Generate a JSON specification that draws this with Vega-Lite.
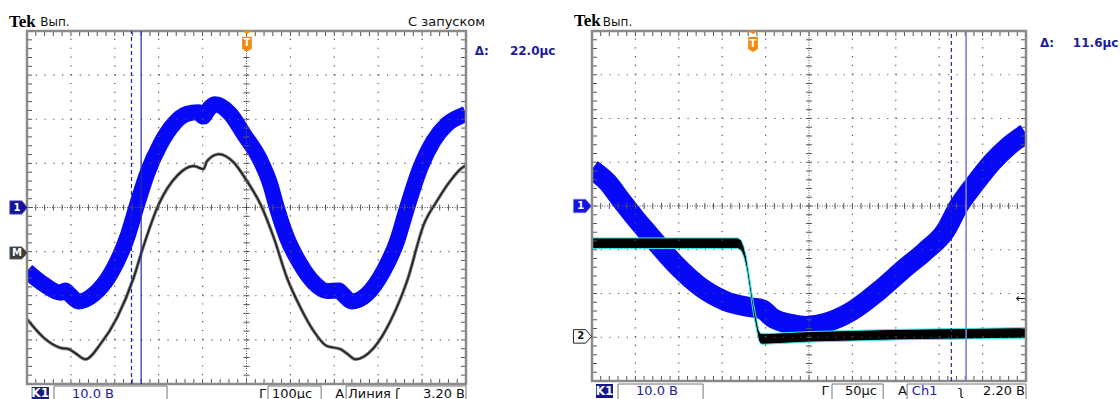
{
"$schema": "https://vega.github.io/schema/vega-lite/v6.json",
"background": "white",
"padding": 0,
"autosize": {"type": "pad"},
"bounds": "flush",
"spacing": 126,
"config": {"view": {"stroke": null}, "axis": {"disable": true}, "legend": {"disable": true}},
"datasets": {
"tx": [{"t":0},{"t":0.2},{"t":0.4},{"t":0.6},{"t":0.8},{"t":1},{"t":1.2},{"t":1.4},{"t":1.6},{"t":1.8},{"t":2},{"t":2.2},{"t":2.4},{"t":2.6},{"t":2.8},{"t":3},{"t":3.2},{"t":3.4},{"t":3.6},{"t":3.8},{"t":4},{"t":4.2},{"t":4.4},{"t":4.6},{"t":4.8},{"t":5},{"t":5.2},{"t":5.4},{"t":5.6},{"t":5.8},{"t":6},{"t":6.2},{"t":6.4},{"t":6.6},{"t":6.8},{"t":7},{"t":7.2},{"t":7.4},{"t":7.6},{"t":7.8},{"t":8},{"t":8.2},{"t":8.4},{"t":8.6},{"t":8.8},{"t":9},{"t":9.2},{"t":9.4},{"t":9.6},{"t":9.8},{"t":10}],
"ty": [{"t":0},{"t":0.2},{"t":0.4},{"t":0.6},{"t":0.8},{"t":1},{"t":1.2},{"t":1.4},{"t":1.6},{"t":1.8},{"t":2},{"t":2.2},{"t":2.4},{"t":2.6},{"t":2.8},{"t":3},{"t":3.2},{"t":3.4},{"t":3.6},{"t":3.8},{"t":4},{"t":4.2},{"t":4.4},{"t":4.6},{"t":4.8},{"t":5},{"t":5.2},{"t":5.4},{"t":5.6},{"t":5.8},{"t":6},{"t":6.2},{"t":6.4},{"t":6.6},{"t":6.8},{"t":7},{"t":7.2},{"t":7.4},{"t":7.6},{"t":7.8},{"t":8}],
"gx": [{"p":1},{"p":2},{"p":3},{"p":4},{"p":6},{"p":7},{"p":8},{"p":9}],
"gy": [{"p":1},{"p":2},{"p":3},{"p":5},{"p":6},{"p":7}],
"blueL": [{"x":0,"y":2.56},{"x":0.38,"y":2.26},{"x":0.76,"y":2.07},{"x":0.87,"y":2.12},{"x":0.95,"y":2.05},{"x":1.18,"y":1.87},{"x":1.52,"y":2.03},{"x":1.9,"y":2.49},{"x":2.28,"y":3.32},{"x":2.51,"y":4.07},{"x":2.73,"y":4.75},{"x":3.04,"y":5.44},{"x":3.34,"y":5.89},{"x":3.64,"y":6.12},{"x":3.9,"y":6.16},{"x":4.02,"y":6.06},{"x":4.1,"y":6.18},{"x":4.29,"y":6.34},{"x":4.63,"y":6.12},{"x":4.94,"y":5.66},{"x":5.32,"y":5.06},{"x":5.54,"y":4.53},{"x":5.69,"y":4.0},{"x":5.92,"y":3.32},{"x":6.23,"y":2.71},{"x":6.53,"y":2.3},{"x":6.83,"y":2.11},{"x":7.1,"y":2.12},{"x":7.2,"y":2.03},{"x":7.4,"y":1.87},{"x":7.74,"y":2.03},{"x":8.12,"y":2.56},{"x":8.43,"y":3.24},{"x":8.66,"y":4.0},{"x":8.96,"y":4.9},{"x":9.26,"y":5.51},{"x":9.57,"y":5.89},{"x":9.95,"y":6.1},{"x":10,"y":6.12}],
"blackL": [{"x":0,"y":1.47},{"x":0.38,"y":1.05},{"x":0.76,"y":0.82},{"x":0.95,"y":0.79},{"x":1.1,"y":0.7},{"x":1.33,"y":0.56},{"x":1.67,"y":0.9},{"x":2.05,"y":1.5},{"x":2.43,"y":2.41},{"x":2.62,"y":3.02},{"x":3.0,"y":4.07},{"x":3.42,"y":4.72},{"x":3.8,"y":4.94},{"x":4.02,"y":4.87},{"x":4.1,"y":5.05},{"x":4.37,"y":5.21},{"x":4.71,"y":5.02},{"x":5.01,"y":4.6},{"x":5.32,"y":4.07},{"x":5.62,"y":3.32},{"x":5.92,"y":2.41},{"x":6.23,"y":1.73},{"x":6.53,"y":1.2},{"x":6.83,"y":0.86},{"x":7.14,"y":0.79},{"x":7.3,"y":0.68},{"x":7.48,"y":0.56},{"x":7.9,"y":0.82},{"x":8.28,"y":1.43},{"x":8.66,"y":2.34},{"x":9.04,"y":3.62},{"x":9.34,"y":4.15},{"x":9.64,"y":4.6},{"x":9.91,"y":4.9},{"x":10,"y":4.95}],
"blueR": [{"x":0,"y":4.84},{"x":0.35,"y":4.55},{"x":0.69,"y":4.11},{"x":1.0,"y":3.72},{"x":1.32,"y":3.35},{"x":1.92,"y":2.67},{"x":2.53,"y":2.13},{"x":3.07,"y":1.83},{"x":3.69,"y":1.68},{"x":3.92,"y":1.64},{"x":4.15,"y":1.45},{"x":4.61,"y":1.3},{"x":4.92,"y":1.26},{"x":5.38,"y":1.33},{"x":5.99,"y":1.6},{"x":6.61,"y":2.06},{"x":7.22,"y":2.59},{"x":7.68,"y":2.97},{"x":8.14,"y":3.43},{"x":8.45,"y":4.0},{"x":8.83,"y":4.52},{"x":9.22,"y":5.0},{"x":9.6,"y":5.37},{"x":10,"y":5.66}],
"blackR": [{"x":0,"hi":3.27,"lo":3.03},{"x":3.36,"hi":3.27,"lo":3.03},{"x":3.44,"hi":3.22,"lo":2.98},{"x":3.5,"hi":3.07,"lo":2.83},{"x":3.56,"hi":2.82,"lo":2.58},{"x":3.72,"hi":1.77,"lo":1.53},{"x":3.84,"hi":1.17,"lo":0.93},{"x":3.88,"hi":1.09,"lo":0.85},{"x":3.95,"hi":1.08,"lo":0.84},{"x":5,"hi":1.13,"lo":0.89},{"x":7,"hi":1.18,"lo":0.94},{"x":10,"hi":1.22,"lo":0.98}]
},
"hconcat": [
{
"width": 439, "height": 353,
"layer": [
{"data": {"values": [{"x": -0.615, "x2": 10, "y": -0.363, "y2": 8.685}]}, "mark": {"type": "rect", "fill": "white", "fillOpacity": 0, "strokeWidth": 0}, "encoding": {"x": {"field": "x", "type": "quantitative", "scale": {"domain": [0, 10], "nice": false, "zero": false}}, "y": {"field": "y", "type": "quantitative", "scale": {"domain": [0, 8], "nice": false, "zero": false}}, "x2": {"field": "x2"}, "y2": {"field": "y2"}}},
{"data": {"name": "blueL"}, "mark": {"type": "line", "color": "#0808f8", "strokeWidth": 16, "interpolate": "monotone", "clip": true, "strokeJoin": "round"}, "encoding": {"x": {"field": "x", "type": "quantitative"}, "y": {"field": "y", "type": "quantitative"}}},
{"data": {"name": "blackL"}, "mark": {"type": "line", "color": "#8a8a8a", "strokeWidth": 3.4, "interpolate": "monotone", "clip": true}, "encoding": {"x": {"field": "x", "type": "quantitative"}, "y": {"field": "y", "type": "quantitative"}}},
{"data": {"name": "blackL"}, "mark": {"type": "line", "color": "#262626", "strokeWidth": 1.8, "interpolate": "monotone", "clip": true}, "encoding": {"x": {"field": "x", "type": "quantitative"}, "y": {"field": "y", "type": "quantitative"}}},
{"data": {"name": "gx"}, "mark": {"type": "rule", "stroke": "#555555", "strokeWidth": 1.2, "strokeDash": [1.2, 7.62]}, "encoding": {"x": {"field": "p", "type": "quantitative"}, "y": {"datum": 0}, "y2": {"datum": 8}}},
{"data": {"name": "gy"}, "mark": {"type": "rule", "stroke": "#555555", "strokeWidth": 1.2, "strokeDash": [1.2, 7.58]}, "encoding": {"y": {"field": "p", "type": "quantitative"}, "x": {"datum": 0}, "x2": {"datum": 10}}},
{"data": {"values": [{"p": 5}]}, "mark": {"type": "rule", "stroke": "#555555", "strokeWidth": 1, "strokeDash": [1, 1.5]}, "encoding": {"x": {"field": "p", "type": "quantitative"}, "y": {"datum": 0}, "y2": {"datum": 8}}},
{"data": {"values": [{"p": 4}]}, "mark": {"type": "rule", "stroke": "#555555", "strokeWidth": 1, "strokeDash": [1, 1.5]}, "encoding": {"y": {"field": "p", "type": "quantitative"}, "x": {"datum": 0}, "x2": {"datum": 10}}},
{"data": {"name": "tx"}, "mark": {"type": "tick", "orient": "vertical", "size": 6, "thickness": 1, "color": "#555555", "opacity": 1}, "encoding": {"x": {"field": "t", "type": "quantitative"}, "y": {"datum": 4}}},
{"data": {"name": "ty"}, "mark": {"type": "tick", "orient": "horizontal", "size": 6, "thickness": 1, "color": "#555555", "opacity": 1}, "encoding": {"y": {"field": "t", "type": "quantitative"}, "x": {"datum": 5}}},
{"data": {"name": "tx"}, "mark": {"type": "tick", "orient": "vertical", "size": 5, "thickness": 1, "color": "#555555", "opacity": 1, "yOffset": -2.5}, "encoding": {"x": {"field": "t", "type": "quantitative"}, "y": {"datum": 0}}},
{"data": {"name": "tx"}, "mark": {"type": "tick", "orient": "vertical", "size": 5, "thickness": 1, "color": "#555555", "opacity": 1, "yOffset": 2.5}, "encoding": {"x": {"field": "t", "type": "quantitative"}, "y": {"datum": 8}}},
{"data": {"name": "ty"}, "mark": {"type": "tick", "orient": "horizontal", "size": 5, "thickness": 1, "color": "#555555", "opacity": 1, "xOffset": 2.5}, "encoding": {"y": {"field": "t", "type": "quantitative"}, "x": {"datum": 0}}},
{"data": {"name": "ty"}, "mark": {"type": "tick", "orient": "horizontal", "size": 5, "thickness": 1, "color": "#555555", "opacity": 1, "xOffset": -2.5}, "encoding": {"y": {"field": "t", "type": "quantitative"}, "x": {"datum": 10}}},
{"data": {"values": [{"x": 0, "x2": 10, "y": 0, "y2": 8}]}, "mark": {"type": "rect", "fill": "white", "fillOpacity": 0, "stroke": "#8a8a8a", "strokeWidth": 2.5}, "encoding": {"x": {"field": "x", "type": "quantitative"}, "x2": {"field": "x2"}, "y": {"field": "y", "type": "quantitative"}, "y2": {"field": "y2"}}},
{"data": {"values": [{"x": 2.38}]}, "mark": {"type": "rule", "stroke": "#2424a8", "strokeWidth": 1.2, "strokeDash": [4, 3]}, "encoding": {"x": {"field": "x", "type": "quantitative"}, "y": {"datum": 0}, "y2": {"datum": 8}}},
{"data": {"values": [{"x": 2.6}]}, "mark": {"type": "rule", "stroke": "#2a2aa0", "strokeWidth": 1.2}, "encoding": {"x": {"field": "x", "type": "quantitative"}, "y": {"datum": 0}, "y2": {"datum": 8}}},
{"data": {"values": [{"x": 5.01, "y": 8}]}, "mark": {"type": "point", "shape": "M-1,0L1,0L0,0.8Z", "size": 64, "filled": true, "fill": "#f28a10", "strokeWidth": 0, "opacity": 1}, "encoding": {"x": {"field": "x", "type": "quantitative"}, "y": {"field": "y", "type": "quantitative"}}},
{"data": {"values": [{"x": 5.01, "y": 7.7}]}, "mark": {"type": "point", "shape": "M-0.65,-1L0.65,-1L0.65,0.6L0,1L-0.65,0.6Z", "size": 225, "filled": true, "fill": "#f28a10", "strokeWidth": 0, "opacity": 1}, "encoding": {"x": {"field": "x", "type": "quantitative"}, "y": {"field": "y", "type": "quantitative"}}},
{"data": {"values": [{"x": 5.01, "y": 7.72, "label": "T"}]}, "mark": {"type": "text", "font": "DejaVu Sans", "fontWeight": "bold", "fontSize": 10, "color": "white", "align": "center", "baseline": "middle"}, "encoding": {"x": {"field": "x", "type": "quantitative"}, "y": {"field": "y", "type": "quantitative"}, "text": {"field": "label"}}},
{"data": {"values": [{"x": -0.19, "y": 4.0}]}, "mark": {"type": "point", "shape": "M-1,-0.75L0.35,-0.75L1,0L0.35,0.75L-1,0.75Z", "size": 324, "filled": true, "fill": "#14149a", "stroke": "#7a7ad0", "strokeWidth": 0.8, "opacity": 1}, "encoding": {"x": {"field": "x", "type": "quantitative"}, "y": {"field": "y", "type": "quantitative"}}},
{"data": {"values": [{"x": -0.19, "y": 2.97}]}, "mark": {"type": "point", "shape": "M-1,-0.7L0.35,-0.7L1,0L0.35,0.7L-1,0.7Z", "size": 324, "filled": true, "fill": "#3a3a3a", "stroke": "#9a9a9a", "strokeWidth": 0.8, "opacity": 1}, "encoding": {"x": {"field": "x", "type": "quantitative"}, "y": {"field": "y", "type": "quantitative"}}},
{"data": {"values": [{"x": -0.23, "y": 4.0, "label": "1"}, {"x": -0.23, "y": 2.97, "label": "M"}]}, "mark": {"type": "text", "font": "DejaVu Sans", "fontWeight": "bold", "fontSize": 10, "color": "white", "align": "center", "baseline": "middle"}, "encoding": {"x": {"field": "x", "type": "quantitative"}, "y": {"field": "y", "type": "quantitative"}, "text": {"field": "label"}}},
{"data": {"values": [{"x": 0.615, "x2": 3.19, "y": -0.045, "y2": -0.42}, {"x": 5.49, "x2": 6.7, "y": -0.045, "y2": -0.42}, {"x": 7.27, "x2": 10.0, "y": -0.045, "y2": -0.42}]}, "mark": {"type": "rect", "fill": "white", "stroke": "#777777", "strokeWidth": 1}, "encoding": {"x": {"field": "x", "type": "quantitative"}, "x2": {"field": "x2"}, "y": {"field": "y", "type": "quantitative"}, "y2": {"field": "y2"}}},
{"data": {"values": [{"x": 0.107, "x2": 0.5, "y": -0.068, "y2": -0.363}]}, "mark": {"type": "rect", "fill": "#17178c"}, "encoding": {"x": {"field": "x", "type": "quantitative"}, "x2": {"field": "x2"}, "y": {"field": "y", "type": "quantitative"}, "y2": {"field": "y2"}}},
{"data": {"values": [{"x": 0.3, "y": -0.3, "label": "K1"}]}, "mark": {"type": "text", "font": "DejaVu Sans", "fontWeight": "bold", "fontSize": 12, "color": "white", "align": "center", "baseline": "alphabetic"}, "encoding": {"x": {"field": "x", "type": "quantitative"}, "y": {"field": "y", "type": "quantitative"}, "text": {"field": "label"}}},
{"data": {"values": [{"x": 1.025, "y": -0.306, "label": "10.0 В"}]}, "mark": {"type": "text", "font": "DejaVu Sans", "fontSize": 13, "color": "#1c1c9c", "align": "left", "baseline": "alphabetic"}, "encoding": {"x": {"field": "x", "type": "quantitative"}, "y": {"field": "y", "type": "quantitative"}, "text": {"field": "label"}}},
{"data": {"values": [{"x": 5.285, "y": -0.306, "label": "Г"}, {"x": 5.58, "y": -0.306, "label": "100µс"}, {"x": 7.02, "y": -0.306, "label": "A"}, {"x": 7.31, "y": -0.306, "label": "Линия"}, {"x": 8.38, "y": -0.306, "label": "ʃ"}, {"x": 9.02, "y": -0.306, "label": "3.20 В"}]}, "mark": {"type": "text", "font": "DejaVu Sans", "fontSize": 13, "color": "#111111", "align": "left", "baseline": "alphabetic"}, "encoding": {"x": {"field": "x", "type": "quantitative"}, "y": {"field": "y", "type": "quantitative"}, "text": {"field": "label"}}},
{"data": {"values": [{"x": -0.41, "y": 8.1, "label": "Tek"}]}, "mark": {"type": "text", "font": "Liberation Serif", "fontWeight": "bold", "fontSize": 17, "color": "black", "align": "left", "baseline": "alphabetic"}, "encoding": {"x": {"field": "x", "type": "quantitative"}, "y": {"field": "y", "type": "quantitative"}, "text": {"field": "label"}}},
{"data": {"values": [{"x": 0.3, "y": 8.12, "label": "Вып."}]}, "mark": {"type": "text", "font": "DejaVu Sans", "fontSize": 12, "color": "#111111", "align": "left", "baseline": "alphabetic"}, "encoding": {"x": {"field": "x", "type": "quantitative"}, "y": {"field": "y", "type": "quantitative"}, "text": {"field": "label"}}},
{"data": {"values": [{"x": 8.68, "y": 8.12, "label": "С запуском"}]}, "mark": {"type": "text", "font": "DejaVu Sans", "fontSize": 13, "color": "#111111", "align": "left", "baseline": "alphabetic"}, "encoding": {"x": {"field": "x", "type": "quantitative"}, "y": {"field": "y", "type": "quantitative"}, "text": {"field": "label"}}},
{"data": {"values": [{"x": 10.2, "y": 7.46, "label": "Δ:"}, {"x": 11.0, "y": 7.46, "label": "22.0µс"}]}, "mark": {"type": "text", "font": "DejaVu Sans", "fontWeight": "bold", "fontSize": 12, "color": "#1c1c9c", "align": "left", "baseline": "alphabetic"}, "encoding": {"x": {"field": "x", "type": "quantitative"}, "y": {"field": "y", "type": "quantitative"}, "text": {"field": "label"}}}
]
},
{
"width": 434, "height": 350,
"layer": [
{"data": {"values": [{"x": 0, "x2": 12.166, "y": -0.434, "y2": 8.686}]}, "mark": {"type": "rect", "fill": "white", "fillOpacity": 0, "strokeWidth": 0}, "encoding": {"x": {"field": "x", "type": "quantitative", "scale": {"domain": [0, 10], "nice": false, "zero": false}}, "y": {"field": "y", "type": "quantitative", "scale": {"domain": [0, 8], "nice": false, "zero": false}}, "x2": {"field": "x2"}, "y2": {"field": "y2"}}},
{"data": {"name": "blueR"}, "mark": {"type": "line", "color": "#0808f8", "strokeWidth": 20, "interpolate": "monotone", "clip": true, "strokeJoin": "round"}, "encoding": {"x": {"field": "x", "type": "quantitative"}, "y": {"field": "y", "type": "quantitative"}}},
{"data": {"name": "blackR"}, "mark": {"type": "area", "fill": "#000000", "stroke": "#3ee8e8", "strokeWidth": 1, "clip": true, "interpolate": "linear", "opacity": 1}, "encoding": {"x": {"field": "x", "type": "quantitative"}, "y": {"field": "hi", "type": "quantitative"}, "y2": {"field": "lo"}}},
{"data": {"name": "gx"}, "mark": {"type": "rule", "stroke": "#555555", "strokeWidth": 1.2, "strokeDash": [1.2, 7.55]}, "encoding": {"x": {"field": "p", "type": "quantitative"}, "y": {"datum": 0}, "y2": {"datum": 8}}},
{"data": {"name": "gy"}, "mark": {"type": "rule", "stroke": "#555555", "strokeWidth": 1.2, "strokeDash": [1.2, 7.48]}, "encoding": {"y": {"field": "p", "type": "quantitative"}, "x": {"datum": 0}, "x2": {"datum": 10}}},
{"data": {"values": [{"p": 5}]}, "mark": {"type": "rule", "stroke": "#555555", "strokeWidth": 1, "strokeDash": [1, 1.5]}, "encoding": {"x": {"field": "p", "type": "quantitative"}, "y": {"datum": 0}, "y2": {"datum": 8}}},
{"data": {"values": [{"p": 4}]}, "mark": {"type": "rule", "stroke": "#555555", "strokeWidth": 1, "strokeDash": [1, 1.5]}, "encoding": {"y": {"field": "p", "type": "quantitative"}, "x": {"datum": 0}, "x2": {"datum": 10}}},
{"data": {"name": "tx"}, "mark": {"type": "tick", "orient": "vertical", "size": 6, "thickness": 1, "color": "#555555", "opacity": 1}, "encoding": {"x": {"field": "t", "type": "quantitative"}, "y": {"datum": 4}}},
{"data": {"name": "ty"}, "mark": {"type": "tick", "orient": "horizontal", "size": 6, "thickness": 1, "color": "#555555", "opacity": 1}, "encoding": {"y": {"field": "t", "type": "quantitative"}, "x": {"datum": 5}}},
{"data": {"name": "tx"}, "mark": {"type": "tick", "orient": "vertical", "size": 5, "thickness": 1, "color": "#555555", "opacity": 1, "yOffset": -2.5}, "encoding": {"x": {"field": "t", "type": "quantitative"}, "y": {"datum": 0}}},
{"data": {"name": "tx"}, "mark": {"type": "tick", "orient": "vertical", "size": 5, "thickness": 1, "color": "#555555", "opacity": 1, "yOffset": 2.5}, "encoding": {"x": {"field": "t", "type": "quantitative"}, "y": {"datum": 8}}},
{"data": {"name": "ty"}, "mark": {"type": "tick", "orient": "horizontal", "size": 5, "thickness": 1, "color": "#555555", "opacity": 1, "xOffset": 2.5}, "encoding": {"y": {"field": "t", "type": "quantitative"}, "x": {"datum": 0}}},
{"data": {"name": "ty"}, "mark": {"type": "tick", "orient": "horizontal", "size": 5, "thickness": 1, "color": "#555555", "opacity": 1, "xOffset": -2.5}, "encoding": {"y": {"field": "t", "type": "quantitative"}, "x": {"datum": 10}}},
{"data": {"values": [{"x": 0, "x2": 10, "y": 0, "y2": 8}]}, "mark": {"type": "rect", "fill": "white", "fillOpacity": 0, "stroke": "#8a8a8a", "strokeWidth": 2.5}, "encoding": {"x": {"field": "x", "type": "quantitative"}, "x2": {"field": "x2"}, "y": {"field": "y", "type": "quantitative"}, "y2": {"field": "y2"}}},
{"data": {"values": [{"x": 8.28}]}, "mark": {"type": "rule", "stroke": "#2424a8", "strokeWidth": 1.2, "strokeDash": [4, 3]}, "encoding": {"x": {"field": "x", "type": "quantitative"}, "y": {"datum": 0}, "y2": {"datum": 8}}},
{"data": {"values": [{"x": 8.62}]}, "mark": {"type": "rule", "stroke": "#7f7fd8", "strokeWidth": 1.6}, "encoding": {"x": {"field": "x", "type": "quantitative"}, "y": {"datum": 0}, "y2": {"datum": 8}}},
{"data": {"values": [{"x": 3.71, "y": 8}]}, "mark": {"type": "point", "shape": "M-1,0L1,0L0,0.8Z", "size": 64, "filled": true, "fill": "#f28a10", "strokeWidth": 0, "opacity": 1}, "encoding": {"x": {"field": "x", "type": "quantitative"}, "y": {"field": "y", "type": "quantitative"}}},
{"data": {"values": [{"x": 3.71, "y": 7.69}]}, "mark": {"type": "point", "shape": "M-0.65,-1L0.65,-1L0.65,0.6L0,1L-0.65,0.6Z", "size": 225, "filled": true, "fill": "#f28a10", "strokeWidth": 0, "opacity": 1}, "encoding": {"x": {"field": "x", "type": "quantitative"}, "y": {"field": "y", "type": "quantitative"}}},
{"data": {"values": [{"x": 3.71, "y": 7.71, "label": "T"}]}, "mark": {"type": "text", "font": "DejaVu Sans", "fontWeight": "bold", "fontSize": 10, "color": "white", "align": "center", "baseline": "middle"}, "encoding": {"x": {"field": "x", "type": "quantitative"}, "y": {"field": "y", "type": "quantitative"}, "text": {"field": "label"}}},
{"data": {"values": [{"x": 9.88, "y": 1.9, "label": "←"}]}, "mark": {"type": "text", "font": "DejaVu Sans", "fontSize": 12, "color": "#111111", "align": "center", "baseline": "middle"}, "encoding": {"x": {"field": "x", "type": "quantitative"}, "y": {"field": "y", "type": "quantitative"}, "text": {"field": "label"}}},
{"data": {"values": [{"x": -0.22, "y": 4.0}]}, "mark": {"type": "point", "shape": "M-1,-0.75L0.35,-0.75L1,0L0.35,0.75L-1,0.75Z", "size": 324, "filled": true, "fill": "#1414e0", "stroke": "#7a7ad0", "strokeWidth": 0.8, "opacity": 1}, "encoding": {"x": {"field": "x", "type": "quantitative"}, "y": {"field": "y", "type": "quantitative"}}},
{"data": {"values": [{"x": -0.22, "y": 1.02}]}, "mark": {"type": "point", "shape": "M-1,-0.75L0.35,-0.75L1,0L0.35,0.75L-1,0.75Z", "size": 324, "filled": true, "fill": "white", "stroke": "#222222", "strokeWidth": 1, "opacity": 1}, "encoding": {"x": {"field": "x", "type": "quantitative"}, "y": {"field": "y", "type": "quantitative"}}},
{"data": {"values": [{"x": -0.26, "y": 4.0, "label": "1"}]}, "mark": {"type": "text", "font": "DejaVu Sans", "fontWeight": "bold", "fontSize": 10, "color": "white", "align": "center", "baseline": "middle"}, "encoding": {"x": {"field": "x", "type": "quantitative"}, "y": {"field": "y", "type": "quantitative"}, "text": {"field": "label"}}},
{"data": {"values": [{"x": -0.26, "y": 1.02, "label": "2"}]}, "mark": {"type": "text", "font": "DejaVu Sans", "fontWeight": "bold", "fontSize": 10, "color": "#111111", "align": "center", "baseline": "middle"}, "encoding": {"x": {"field": "x", "type": "quantitative"}, "y": {"field": "y", "type": "quantitative"}, "text": {"field": "label"}}},
{"data": {"values": [{"x": 0.6, "x2": 2.56, "y": -0.069, "y2": -0.45}, {"x": 5.53, "x2": 6.71, "y": -0.069, "y2": -0.45}, {"x": 7.26, "x2": 10.0, "y": -0.069, "y2": -0.45}]}, "mark": {"type": "rect", "fill": "white", "stroke": "#777777", "strokeWidth": 1}, "encoding": {"x": {"field": "x", "type": "quantitative"}, "x2": {"field": "x2"}, "y": {"field": "y", "type": "quantitative"}, "y2": {"field": "y2"}}},
{"data": {"values": [{"x": 0.092, "x2": 0.484, "y": -0.069, "y2": -0.389}]}, "mark": {"type": "rect", "fill": "#17178c"}, "encoding": {"x": {"field": "x", "type": "quantitative"}, "x2": {"field": "x2"}, "y": {"field": "y", "type": "quantitative"}, "y2": {"field": "y2"}}},
{"data": {"values": [{"x": 0.288, "y": -0.32, "label": "K1"}]}, "mark": {"type": "text", "font": "DejaVu Sans", "fontWeight": "bold", "fontSize": 12, "color": "white", "align": "center", "baseline": "alphabetic"}, "encoding": {"x": {"field": "x", "type": "quantitative"}, "y": {"field": "y", "type": "quantitative"}, "text": {"field": "label"}}},
{"data": {"values": [{"x": 1.014, "y": -0.32, "label": "10.0 В"}, {"x": 7.37, "y": -0.32, "label": "Ch1"}]}, "mark": {"type": "text", "font": "DejaVu Sans", "fontSize": 13, "color": "#1c1c9c", "align": "left", "baseline": "alphabetic"}, "encoding": {"x": {"field": "x", "type": "quantitative"}, "y": {"field": "y", "type": "quantitative"}, "text": {"field": "label"}}},
{"data": {"values": [{"x": 5.29, "y": -0.32, "label": "Г"}, {"x": 5.83, "y": -0.32, "label": "50µс"}, {"x": 7.05, "y": -0.32, "label": "A"}, {"x": 8.43, "y": -0.32, "label": "ʅ"}, {"x": 9.01, "y": -0.32, "label": "2.20 В"}]}, "mark": {"type": "text", "font": "DejaVu Sans", "fontSize": 13, "color": "#111111", "align": "left", "baseline": "alphabetic"}, "encoding": {"x": {"field": "x", "type": "quantitative"}, "y": {"field": "y", "type": "quantitative"}, "text": {"field": "label"}}},
{"data": {"values": [{"x": -0.415, "y": 8.11, "label": "Tek"}]}, "mark": {"type": "text", "font": "Liberation Serif", "fontWeight": "bold", "fontSize": 17, "color": "black", "align": "left", "baseline": "alphabetic"}, "encoding": {"x": {"field": "x", "type": "quantitative"}, "y": {"field": "y", "type": "quantitative"}, "text": {"field": "label"}}},
{"data": {"values": [{"x": 0.25, "y": 8.11, "label": "Вып."}]}, "mark": {"type": "text", "font": "DejaVu Sans", "fontSize": 12, "color": "#111111", "align": "left", "baseline": "alphabetic"}, "encoding": {"x": {"field": "x", "type": "quantitative"}, "y": {"field": "y", "type": "quantitative"}, "text": {"field": "label"}}},
{"data": {"values": [{"x": 10.32, "y": 7.63, "label": "Δ:"}, {"x": 11.08, "y": 7.63, "label": "11.6µс"}]}, "mark": {"type": "text", "font": "DejaVu Sans", "fontWeight": "bold", "fontSize": 12, "color": "#1c1c9c", "align": "left", "baseline": "alphabetic"}, "encoding": {"x": {"field": "x", "type": "quantitative"}, "y": {"field": "y", "type": "quantitative"}, "text": {"field": "label"}}}
]
}
]
}
